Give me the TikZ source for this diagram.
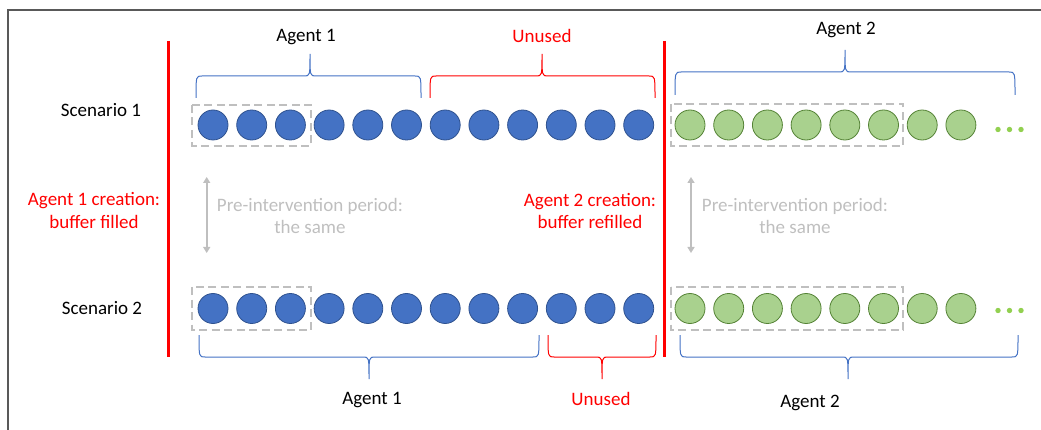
\documentclass[tikz,border=0pt]{standalone}
\usepackage{fontspec}
\setmainfont{Carlito}
\usetikzlibrary{arrows.meta}
\definecolor{bluefill}{HTML}{4472C4}
\definecolor{blueline}{HTML}{2F528F}
\definecolor{greenfill}{HTML}{A9D18E}
\definecolor{greenline}{HTML}{548235}
\definecolor{dotgreen}{HTML}{92D050}
\definecolor{lgray}{HTML}{BFBFBF}
\definecolor{framegray}{HTML}{595959}
\definecolor{pptred}{HTML}{FF0000}
\newcommand{\hbrace}[7]{%
  \draw[#1] (#2,#5) .. controls (#2,#6) .. ({#2+6},#6) -- ({#3-6},#6)
    .. controls (#3,#6) .. (#3,#7) .. controls (#3,#6) .. ({#3+6},#6)
    -- ({#4-6},#6) .. controls (#4,#6) .. (#4,#5);}
\begin{document}
\begin{tikzpicture}[x=1pt,y=-1pt,
  lbl/.style={font=\fontsize{19}{22.5}\selectfont, inner sep=0pt, align=center},
  bball/.style={circle, draw=blueline, fill=bluefill, line width=0.8pt, minimum size=30pt, inner sep=0pt},
  gball/.style={circle, draw=greenline, fill=greenfill, line width=0.8pt, minimum size=30pt, inner sep=0pt},
  bufbox/.style={draw=lgray, dash pattern=on 8pt off 4.5pt, line width=2pt},
  redline/.style={draw=pptred, line width=3pt},
  bluebrace/.style={draw=bluefill, line width=1pt},
  redbrace/.style={draw=pptred, line width=1pt},
  grayarrow/.style={draw=lgray, line width=2pt, {Triangle[length=6pt,width=7pt]}-{Triangle[length=6pt,width=7pt]}},
  moredots/.style={fill=dotgreen}
]
\useasboundingbox (0,0) rectangle (1041,430);
% frame
\draw[framegray, line width=1.5pt] (8,430) -- (8,10) -- (1041,10);

% buffer boxes
\draw[bufbox] (192,105) rectangle (311,146);
\draw[bufbox] (671,104) rectangle (903,146);
\draw[bufbox] (192,287) rectangle (311,330);
\draw[bufbox] (671,287) rectangle (903,330);

% balls
\foreach \k in {0,...,11} {
  \node[bball] (sa\k) at ({213+\k*38.7},125) {};
  \node[bball] (sb\k) at ({213+\k*38.7},308.5) {};
}
\foreach \k in {0,...,7} {
  \node[gball] (ga\k) at ({690+\k*38.7},125) {};
  \node[gball] (gb\k) at ({690+\k*38.7},308.5) {};
}
\foreach \x in {998,1009.5,1021} {
  \fill[moredots] (\x,129.5) circle (2.7);
  \fill[moredots] (\x,310.5) circle (2.7);
}

% red lines
\draw[redline] (168,41) -- (168,357);
\draw[redline] (664,41) -- (664,357);

% braces
\hbrace{bluebrace}{196}{310}{421}{98}{76}{54}
\hbrace{redbrace}{430}{542}{655}{98}{76}{54}
\hbrace{bluebrace}{675}{845}{1015}{95}{72}{50}
\hbrace{bluebrace}{199}{369}{539}{335}{357}{379}
\hbrace{redbrace}{548}{602}{656}{335}{357}{379}
\hbrace{bluebrace}{680}{848}{1018}{335}{357}{379}

% gray arrows
\coordinate (a1t) at (206.7,177);
\coordinate (a1b) at (206.7,253);
\coordinate (a2t) at (691,177);
\coordinate (a2b) at (691,253);
\draw[grayarrow] (a1t) -- (a1b);
\draw[grayarrow] (a2t) -- (a2b);

% labels
\node[lbl] (tA1) at (306,37) {Agent 1};
\node[lbl, text=pptred] (tU1) at (542,36) {Unused};
\node[lbl] (tA2) at (846,30) {Agent 2};
\node[lbl] (sc1) at (101,110) {Scenario 1};
\node[lbl] (sc2) at (102,308) {Scenario 2};
\node[lbl, text=pptred] (cr1) at (94,210.5) {Agent 1 creation:\\buffer filled};
\node[lbl, text=pptred] (cr2) at (590,211) {Agent 2 creation:\\buffer refilled};
\node[lbl, text=lgray] (pi1) at (310,216) {Pre-intervention period:\\the same};
\node[lbl, text=lgray] (pi2) at (795,216) {Pre-intervention period:\\the same};
\node[lbl] (bA1) at (372,400) {Agent 1};
\node[lbl, text=pptred] (bU1) at (601,398.5) {Unused};
\node[lbl] (bA2) at (810,403) {Agent 2};
\end{tikzpicture}
\end{document}
